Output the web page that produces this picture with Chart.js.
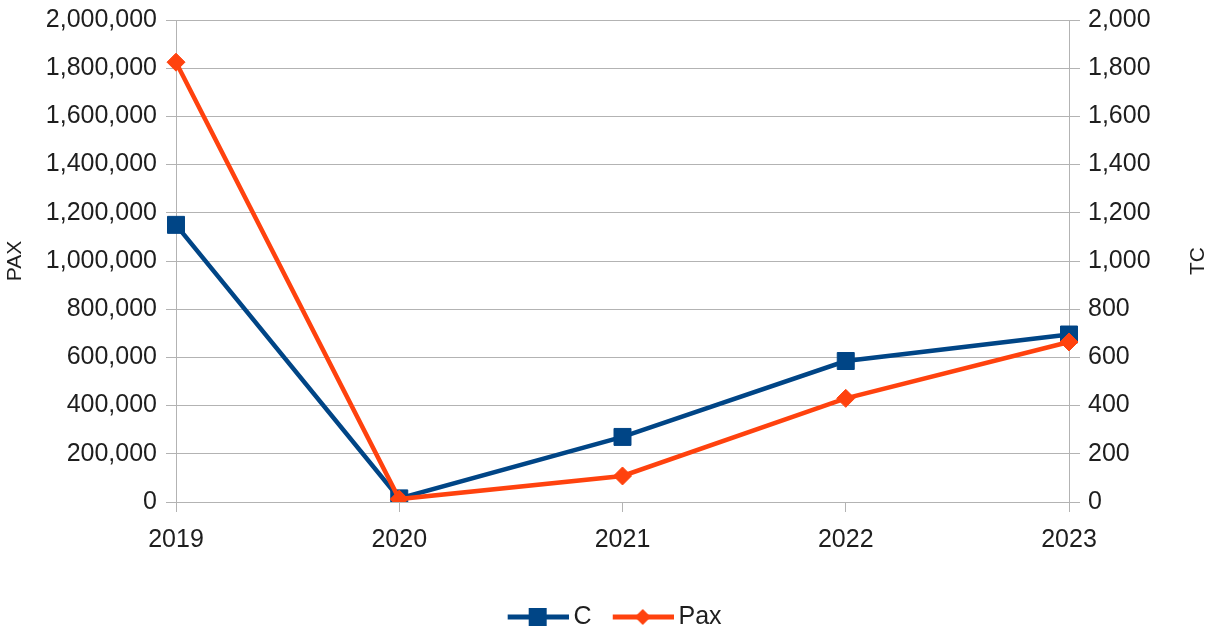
<!DOCTYPE html>
<html>
<head>
<meta charset="utf-8">
<script src="https://cdn.jsdelivr.net/npm/chart.js@4/dist/chart.umd.min.js"></script>
<style>
  html, body { margin: 0; padding: 0; background: #fff; overflow: hidden; }
  #wrap { width: 1212px; height: 630px; }
</style>
</head>
<body>
<div id="wrap"><canvas id="chart"></canvas></div>
<script>
var years = ['2019', '2020', '2021', '2022', '2023'];
var cValues = [1150, 15, 270, 585, 695];
var paxValues = [1825000, 12000, 108000, 430000, 664000];

var blue = '#004586';
var orange = '#ff420e';
var gridColor = '#b3b3b3';
var textColor = '#1e1e1e';

// legend icon: line with marker in the middle
function legendIcon(color, shape) {
    var c = document.createElement('canvas');
    c.width = 86;
    c.height = 24;
    var g = c.getContext('2d');
    g.strokeStyle = color;
    g.fillStyle = color;
    g.lineWidth = 5;
    g.beginPath();
    g.moveTo(25, 12);
    g.lineTo(86, 12);
    g.stroke();
    g.beginPath();
    if (shape == 'square') {
        g.rect(55 - 9, 12 - 9, 18, 18);
    } else {
        g.moveTo(55, 12 - 8);
        g.lineTo(55 + 8, 12);
        g.lineTo(55, 12 + 8);
        g.lineTo(55 - 8, 12);
        g.closePath();
    }
    g.fill();
    return c;
}

var icons = [legendIcon(blue, 'square'), legendIcon(orange, 'diamond')];

// right axis title reads bottom to top, like the left one
var rightTitle = {
    id: 'rightTitle',
    afterDraw: function (ch) {
        var g = ch.ctx;
        var s = ch.scales.y1;
        g.save();
        g.translate(1198, (s.top + s.bottom) / 2);
        g.rotate(-Math.PI / 2);
        g.fillStyle = textColor;
        g.font = '21px "Liberation Sans"';
        g.textAlign = 'center';
        g.textBaseline = 'middle';
        g.fillText('TC', 0, 0);
        g.restore();
    }
};

function fixWidth(w) {
    return function (s) {
        s.width = w;
        s.paddingTop = 0;
        s.paddingBottom = 0;
    };
}

var ctx = document.getElementById('chart').getContext('2d');
var chart = new Chart(ctx, {
    type: 'line',
    data: {
        labels: years,
        datasets: [{
            label: 'C',
            data: cValues,
            yAxisID: 'y1',
            borderColor: blue,
            backgroundColor: blue,
            borderWidth: 4.5,
            pointStyle: 'rect',
            pointRadius: 12,
            pointBorderWidth: 1,
            order: 1,
            tension: 0
        }, {
            label: 'Pax',
            data: paxValues,
            yAxisID: 'y',
            borderColor: orange,
            backgroundColor: orange,
            borderWidth: 4.5,
            pointStyle: 'rectRot',
            pointRadius: 9,
            pointBorderWidth: 1,
            order: 0,
            tension: 0
        }]
    },
    options: {
        responsive: true,
        maintainAspectRatio: false,
        animation: false,
        locale: 'en-US',
        layout: { padding: { top: 20, left: 0, right: 0, bottom: 0 } },
        plugins: {
            tooltip: { enabled: false },
            legend: {
                position: 'bottom',
                maxHeight: 29.5,
                labels: {
                    usePointStyle: true,
                    pointStyleWidth: 70.5,
                    padding: 4,
                    color: textColor,
                    font: { family: 'Liberation Sans', size: 25 },
                    generateLabels: function (ch) {
                        return ch.data.datasets.map(function (ds, i) {
                            return {
                                text: ds.label,
                                pointStyle: icons[i],
                                fillStyle: ds.borderColor,
                                strokeStyle: ds.borderColor,
                                lineWidth: 0,
                                fontColor: textColor,
                                datasetIndex: i,
                                hidden: false
                            };
                        });
                    }
                }
            }
        },
        scales: {
            x: {
                offset: false,
                afterFit: function (s) { s.height = 98.5; },
                border: { display: true, color: gridColor },
                grid: { drawOnChartArea: false, drawTicks: true, tickLength: 10, color: gridColor },
                ticks: { color: textColor, padding: 13, maxRotation: 0, font: { family: 'Liberation Sans', size: 25 } }
            },
            y: {
                position: 'left',
                min: 0,
                max: 2000000,
                afterFit: fixWidth(176),
                border: { display: true, color: gridColor },
                grid: { color: gridColor, tickLength: 10 },
                ticks: { stepSize: 200000, color: textColor, padding: 9, font: { family: 'Liberation Sans', size: 25 } },
                title: { display: true, text: 'PAX', color: textColor, padding: { top: 3, bottom: 0 }, font: { family: 'Liberation Sans', size: 21 } }
            },
            y1: {
                position: 'right',
                min: 0,
                max: 2000,
                afterFit: fixWidth(143),
                border: { display: true, color: gridColor },
                grid: { drawOnChartArea: false, color: gridColor, tickLength: 11 },
                ticks: { stepSize: 200, color: textColor, padding: 8, font: { family: 'Liberation Sans', size: 25 } }
            }
        }
    },
    plugins: [rightTitle]
});
</script>
</body>
</html>
